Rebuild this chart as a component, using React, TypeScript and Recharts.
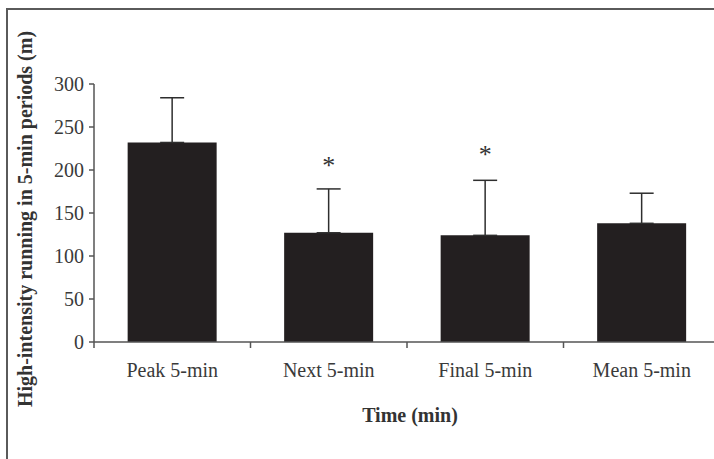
import * as React from "react";
import {
  ComposedChart,
  Bar,
  ErrorBar,
  Scatter,
  XAxis,
  YAxis,
} from "recharts";

const periods = ["Peak 5-min", "Next 5-min", "Final 5-min", "Mean 5-min"];
const distance = [232, 127, 124, 138];
const sdUpper = [52, 51, 64, 35];
const starLevel = [null, 212, 225, null];
const yTicks = [0, 50, 100, 150, 200, 250, 300];

const chartData = periods.map((period, i) => ({
  period,
  distance: distance[i],
  err: [0, sdUpper[i]],
  star: starLevel[i],
}));

const FONT = "'Liberation Serif', 'Times New Roman', serif";
const CHART_W = 740;
const CHART_H = 459;
const MARGIN = { top: 84, right: 20, bottom: 87, left: 34 };
const Y_AXIS_W = 60;
const PLOT_LEFT = MARGIN.left + Y_AXIS_W;
const PLOT_W = CHART_W - MARGIN.right - PLOT_LEFT;
const AXIS_Y = CHART_H - MARGIN.bottom - 30;
const HALF_BAND = PLOT_W / periods.length / 2;

function XTick(props: any) {
  const { x, payload } = props;
  return (
    <g>
      <line
        x1={x - HALF_BAND}
        x2={x - HALF_BAND}
        y1={AXIS_Y}
        y2={AXIS_Y + 6}
        stroke="#555"
        strokeWidth={1.5}
      />
      <text
        x={x}
        y={AXIS_Y + 35}
        textAnchor="middle"
        fill="#3a3a3a"
        fontFamily={FONT}
        fontSize={20}
      >
        {payload.value}
      </text>
    </g>
  );
}

function Star(props: any) {
  const { cx, cy, payload } = props;
  if (payload.star == null) return <g />;
  return (
    <text
      x={cx}
      y={cy + 14}
      textAnchor="middle"
      fill="#333"
      fontFamily={FONT}
      fontSize={26}
    >
      *
    </text>
  );
}

export default function App() {
  return (
    <div
      style={{
        position: "absolute",
        left: 0,
        top: 0,
        width: 714,
        height: 459,
        overflow: "hidden",
        background: "#fff",
      }}
    >
      <div
        style={{
          position: "absolute",
          left: 6,
          top: 8,
          right: 0,
          bottom: 0,
          borderTop: "2px solid #5a5a5a",
          borderLeft: "2px solid #5a5a5a",
        }}
      />
      <div style={{ position: "absolute", left: 0, top: 0 }}>
        <ComposedChart
          width={CHART_W}
          height={CHART_H}
          data={chartData}
          margin={MARGIN}
          barCategoryGap="21.5%"
        >
          <XAxis
            dataKey="period"
            type="category"
            height={30}
            axisLine={{ stroke: "#555", strokeWidth: 1.5 }}
            tickLine={false}
            tick={<XTick />}
            interval={0}
            label={{
              content: () => (
                <text
                  x={410}
                  y={422}
                  textAnchor="middle"
                  fill="#333"
                  fontFamily={FONT}
                  fontSize={20}
                  fontWeight="bold"
                >
                  Time (min)
                </text>
              ),
            }}
          />
          <YAxis
            width={Y_AXIS_W}
            domain={[0, 300]}
            ticks={yTicks}
            interval={0}
            axisLine={{ stroke: "#555", strokeWidth: 1.5 }}
            tickLine={{ stroke: "#555", strokeWidth: 1.5 }}
            tickSize={5}
            tickMargin={5}
            tick={{ fill: "#3a3a3a", fontFamily: FONT, fontSize: 20 }}
            label={{
              content: () => (
                <text
                  x={32}
                  y={219}
                  transform="rotate(-90 32 219)"
                  textAnchor="middle"
                  fill="#333"
                  fontFamily={FONT}
                  fontSize={20}
                  fontWeight="bold"
                >
                  High-intensity running in 5-min periods (m)
                </text>
              ),
            }}
          />
          <Bar dataKey="distance" fill="#231f20" isAnimationActive={false}>
            <ErrorBar
              dataKey="err"
              direction="y"
              width={12}
              stroke="#2e2e2e"
              strokeWidth={1.5}
              isAnimationActive={false}
            />
          </Bar>
          <Scatter dataKey="star" shape={<Star />} isAnimationActive={false} />
        </ComposedChart>
      </div>
    </div>
  );
}
